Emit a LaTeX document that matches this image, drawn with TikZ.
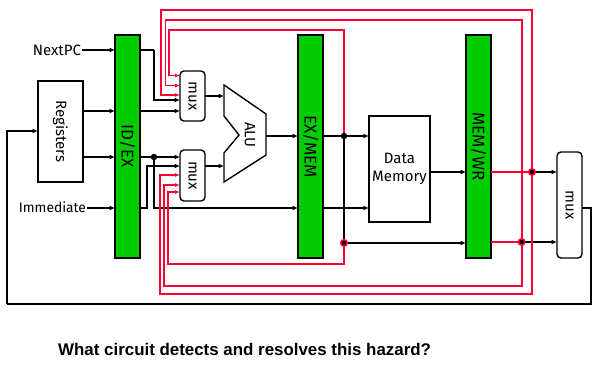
\documentclass[tikz,border=0pt]{standalone}
\usepackage{graphicx}
\usepackage{fontspec}
\setmainfont{Fira Sans}
\newfontfamily\captionfont{Liberation Sans}
\usetikzlibrary{arrows.meta,calc}
\definecolor{barGreen}{HTML}{00CC00}
\definecolor{fwdRed}{HTML}{FF0033}
\tikzset{
  box/.style={draw=black,line width=1.4pt,fill=white,inner sep=0pt,outer sep=0pt,font=\fontsize{15}{18}\selectfont},
  bar/.style={box,fill=barGreen,minimum width=25pt,minimum height=223pt,font=\fontsize{17}{20}\selectfont},
  muxbox/.style={box,rounded corners=4pt,minimum width=25pt},
  wire/.style={draw=black,line width=1.3pt},
  arrowwire/.style={wire,-{Latex[length=5.5pt,width=5pt]}},
  redwire/.style={draw=fwdRed,line width=1.9pt},
  redarrow/.style={redwire,-{Latex[length=5pt,width=4pt]}},
  lbl/.style={inner sep=0pt,outer sep=1pt,font=\fontsize{15}{18}\selectfont},
  blackdot/.style={circle,fill=black,inner sep=0pt,minimum size=6.5pt},
  reddot/.style={circle,fill=black,draw=fwdRed,line width=1.6pt,inner sep=0pt,minimum size=6.5pt}
}
\begin{document}
\begin{tikzpicture}[x=1pt,y=-1pt]
\useasboundingbox (0,0) rectangle (600,383);
% boxes
\node[bar] (idex) at (127.5,146.5) {\rotatebox{-90}{ID/EX}};
\node[bar] (exmem) at (310.5,146.5) {\rotatebox{-90}{EX/MEM}};
\node[bar] (memwr) at (478.5,146.5) {\rotatebox{-90}{MEM/WR}};
\node[box,minimum width=45pt,minimum height=101pt] (regs) at (60.5,131.5) {\rotatebox{-90}{Registers}};
\node[muxbox,minimum height=50pt] (muxa) at (192.5,96) {\rotatebox{-90}{mux}};
\node[muxbox,minimum height=51pt] (muxb) at (192.5,175.5) {\rotatebox{-90}{mux}};
\node[muxbox,minimum height=106pt] (muxc) at (569.5,205) {\rotatebox{-90}{mux}};
\node[box,minimum width=61pt,minimum height=106pt,align=center] (dmem) at (399.5,169) {Data\\Memory};
\node[lbl,anchor=east] (nextpc) at (82,50) {NextPC};
\node[lbl,anchor=east,font=\fontsize{13.8}{16}\selectfont] (imm) at (87,207) {Immediate};
% ALU
\draw[box] (224,85) coordinate (aluTop) -- (266,114) -- (266,155) -- (224,182) -- (224,153) -- (239,135) -- (224,116) -- cycle;
\node[lbl] (alu) at (250,135) {\rotatebox{-90}{ALU}};
\coordinate (aluA) at (224,96);
\coordinate (aluB) at (224,166);
\coordinate (aluOut) at (266,136);
% junctions
\coordinate (j1) at (154,50);
\coordinate (j2) at (154,157);
\coordinate (j3) at (147,208);
\coordinate (j4) at (344,136);
\coordinate (j5) at (344,243);
\coordinate (j6) at (532,172);
\coordinate (j7) at (521.6,242);
\coordinate (fb1) at (591,208);
\coordinate (fb2) at (7,304);
% black wires
\draw[arrowwire] (nextpc.east) -- (nextpc.east -| idex.west);
\draw[wire] (j1 -| idex.east) -- (j1);
\draw[arrowwire] (j1) -- (154,100) -- (180,100);
\draw[arrowwire] (regs.east |- 0,111) -- (idex.west |- 0,111);
\draw[arrowwire] (idex.east |- 0,111) -- (muxa.west |- 0,111);
\draw[arrowwire] (regs.east |- j2) -- (idex.west |- j2);
\draw[arrowwire] (idex.east |- j2) -- (muxb.west |- j2);
\draw[arrowwire] (j2) -- (154,208) -- (exmem.west |- 0,208);
\draw[arrowwire] (imm.east |- j3) -- (idex.west |- j3);
\draw[arrowwire] (idex.east |- j3) -- (j3) -- (147,166) -- (muxb.west |- 0,166);
\draw[arrowwire] (muxa.east |- aluA) -- (aluA);
\draw[arrowwire] (muxb.east |- aluB) -- (aluB);
\draw[arrowwire] (aluOut) -- (exmem.west |- aluOut);
\draw[arrowwire] (exmem.east |- j4) -- (dmem.west |- j4);
\draw[wire] (j4) -- (j5);
\draw[arrowwire] (exmem.east |- 0,208) -- (dmem.west |- 0,208);
\draw[arrowwire] (j5) -- (memwr.west |- j5);
\draw[arrowwire] (dmem.east |- j6) -- (memwr.west |- j6);
\draw[arrowwire] (j6) -- (muxc.west |- j6);
\draw[arrowwire] (j7) -- (muxc.west |- j7);
\draw[wire] (muxc.east |- fb1) -- (fb1) -- (fb1 |- fb2) -- (fb2);
\draw[arrowwire] (fb2) -- (fb2 |- 0,131) -- (regs.west |- 0,131);
% red wires
\draw[redwire] (memwr.east |- j6) -- (j6);
\draw[redwire] (memwr.east |- j7) -- (j7);
\draw[redarrow] (j6) -- (532,10) -- (161,10) -- (161,95) -- (muxa.west |- 0,95);
\draw[redarrow] (j7) -- (521.6,20) -- (165.5,20) -- (165.5,85.5) -- (muxa.west |- 0,85.5);
\draw[redarrow] (j4) -- (344,30) -- (169,30) -- (169,75.5) -- (muxa.west |- 0,75.5);
\draw[redarrow] (j6) -- (532,294) -- (160,294) -- (160,175) -- (muxb.west |- 0,175);
\draw[redarrow] (j7) -- (521.6,286) -- (164,286) -- (164,185) -- (muxb.west |- 0,185);
\draw[redarrow] (j5) -- (344,264) -- (168,264) -- (168,192) -- (muxb.west |- 0,192);
% dots
\node[blackdot] (d1) at (j2) {};
\node[blackdot] (d2) at (j4) {};
\node[reddot] (d3) at (j5) {};
\node[reddot] (d4) at (j6) {};
\node[reddot] (d5) at (j7) {};
% question
\node[inner sep=0pt,anchor=base west,font=\captionfont\bfseries\fontsize{16.9}{20}\selectfont] (question) at (58,355) {What circuit detects and resolves this hazard?};
\end{tikzpicture}
\end{document}
